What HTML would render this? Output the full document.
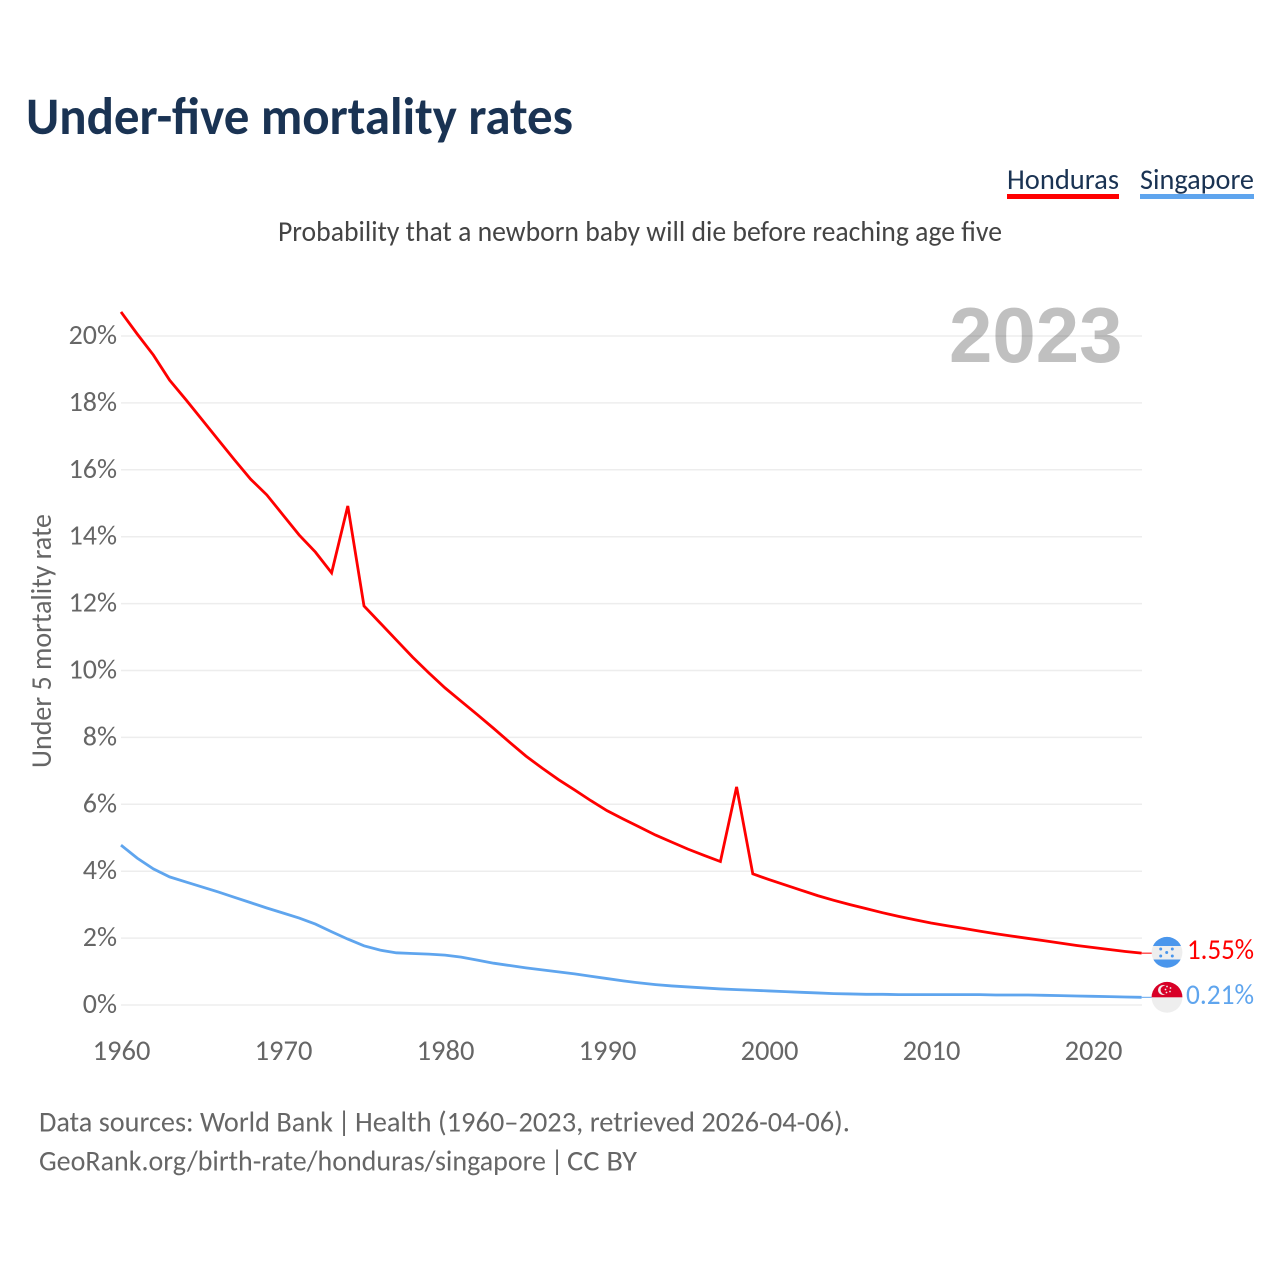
<!DOCTYPE html>
<html lang="en">
<head>
<meta charset="utf-8">
<title>Under-five mortality rates</title>
<style>
html,body{margin:0;padding:0;background:#fff;}
svg{display:block;}
text{font-family:"Carlito","Lato","Liberation Sans",sans-serif;}
</style>
</head>
<body>
<svg id="chart" xmlns="http://www.w3.org/2000/svg" width="1280" height="1280" viewBox="0 0 1280 1280">
  <defs>
    <clipPath id="flag-clip-hn"><circle cx="1167" cy="952.3" r="15.4"/></clipPath>
    <clipPath id="flag-clip-sg"><circle cx="1167" cy="997.3" r="15.4"/></clipPath>
  </defs>
  <rect width="1280" height="1280" fill="#fff"/>
  <text x="26" y="134" font-size="52.5" font-weight="700" fill="#1a3353" textLength="547" lengthAdjust="spacingAndGlyphs">Under-five mortality rates</text>

  <g>
    <text x="1007" y="189" font-size="28.5" fill="#1a3353" textLength="112" lengthAdjust="spacingAndGlyphs">Honduras</text>
    <rect x="1007" y="194" width="112" height="5" fill="#ff0000"/>
  </g>
  <g>
    <text x="1140" y="189" font-size="28.5" fill="#1a3353" textLength="114" lengthAdjust="spacingAndGlyphs">Singapore</text>
    <rect x="1140" y="194" width="114" height="5" fill="#5fa5ee"/>
  </g>

  <text x="278" y="241" font-size="28.5" fill="#444" textLength="724" lengthAdjust="spacingAndGlyphs">Probability that a newborn baby will die before reaching age five</text>

  <text x="949" y="362" font-size="78" font-weight="700" fill="#c0c0c0" style='font-family:"Liberation Sans",sans-serif'>2023</text>

  <g id="grid"></g>
  <g id="yticks"></g>
  <g id="xticks"></g>

  <text transform="translate(51,641) rotate(-90)" text-anchor="middle" font-size="28.5" fill="#666" textLength="254" lengthAdjust="spacingAndGlyphs">Under 5 mortality rate</text>

  <g id="series"></g>

  <g clip-path="url(#flag-clip-hn)">
    <rect x="1151" y="936" width="32" height="33" fill="#eeeeee"/>
    <rect x="1151" y="936" width="32" height="10" fill="#4a96ec"/>
    <rect x="1151" y="959.5" width="32" height="10" fill="#4a96ec"/>
    <g fill="#4a96ec">
      <circle cx="1160.7" cy="949" r="1.5"/><circle cx="1172.3" cy="949" r="1.5"/>
      <circle cx="1166.7" cy="952.5" r="1.5"/>
      <circle cx="1160.7" cy="956" r="1.5"/><circle cx="1172.3" cy="956" r="1.5"/>
    </g>
  </g>
  <g clip-path="url(#flag-clip-sg)">
    <rect x="1151" y="981" width="32" height="33" fill="#eeeeee"/>
    <rect x="1151" y="981" width="32" height="16.3" fill="#d80027"/>
    <circle cx="1163" cy="990" r="5" fill="#eeeeee"/>
    <circle cx="1165" cy="990" r="4.4" fill="#d80027"/>
    <g fill="#eeeeee">
      <circle cx="1167" cy="986.5" r="0.9"/><circle cx="1170.5" cy="988" r="0.9"/>
      <circle cx="1170" cy="991.5" r="0.9"/><circle cx="1166.5" cy="992.5" r="0.9"/>
      <circle cx="1165.5" cy="989.5" r="0.9"/>
    </g>
  </g>

  <text x="1187" y="959" font-size="28.5" fill="#ff0000" textLength="67" lengthAdjust="spacingAndGlyphs">1.55%</text>
  <text x="1186" y="1004" font-size="28.5" fill="#5fa5ee" textLength="68" lengthAdjust="spacingAndGlyphs">0.21%</text>

  <g font-size="28.5" fill="#666">
    <text x="39" y="1131.7" textLength="294" lengthAdjust="spacingAndGlyphs">Data sources: World Bank</text>
    <text x="344" y="1131.7" text-anchor="middle">|</text>
    <text x="355" y="1131.7" textLength="495" lengthAdjust="spacingAndGlyphs">Health (1960–2023, retrieved 2026-04-06).</text>
  </g>
  <g font-size="28.5" fill="#666">
    <text x="39" y="1170.5" textLength="507" lengthAdjust="spacingAndGlyphs">GeoRank.org/birth-rate/honduras/singapore</text>
    <text x="557" y="1170.5" text-anchor="middle">|</text>
    <text x="567" y="1170.5" textLength="70" lengthAdjust="spacingAndGlyphs">CC BY</text>
  </g>
</svg>
<script>
var firstYear = 1960;
var xTickYears = [1960, 1970, 1980, 1990, 2000, 2010, 2020];
var yTickValues = [0, 2, 4, 6, 8, 10, 12, 14, 16, 18, 20];
var hondurasValues = [20.72, 20.06, 19.43, 18.68, 18.1, 17.5, 16.9, 16.3, 15.72, 15.25,
  14.65, 14.05, 13.54, 12.92, 14.92, 11.93, 11.42, 10.91, 10.4, 9.93,
  9.48, 9.08, 8.68, 8.27, 7.85, 7.44, 7.08, 6.74, 6.43, 6.11,
  5.81, 5.56, 5.32, 5.08, 4.87, 4.66, 4.47, 4.29, 6.52, 3.92,
  3.75, 3.59, 3.43, 3.27, 3.13, 3.0, 2.88, 2.76, 2.65, 2.55,
  2.45, 2.37, 2.29, 2.21, 2.13, 2.06, 1.99, 1.92, 1.85, 1.78,
  1.72, 1.66, 1.6, 1.55];
var singaporeValues = [4.78, 4.39, 4.07, 3.83, 3.68, 3.53, 3.38, 3.22, 3.06, 2.9,
  2.75, 2.6, 2.42, 2.19, 1.97, 1.77, 1.64, 1.56, 1.54, 1.52,
  1.49, 1.43, 1.34, 1.25, 1.18, 1.11, 1.05, 0.99, 0.93, 0.86,
  0.79, 0.72, 0.66, 0.61, 0.57, 0.54, 0.51, 0.48, 0.46, 0.44,
  0.42, 0.4, 0.38, 0.36, 0.34, 0.33, 0.32, 0.32, 0.31, 0.31,
  0.31, 0.31, 0.31, 0.31, 0.3, 0.3, 0.3, 0.29, 0.28, 0.27,
  0.26, 0.25, 0.24, 0.23];

var NS = 'http://www.w3.org/2000/svg';
function xScale(year) { return 121 + (year - 1960) * 16.2; }
function yScale(v) { return 1005 - v * 33.45; }

var gridGroup = document.getElementById('grid');
var yTickGroup = document.getElementById('yticks');
var xTickGroup = document.getElementById('xticks');
var seriesGroup = document.getElementById('series');

yTickValues.forEach(function (v) {
  var line = document.createElementNS(NS, 'line');
  
  
  line.setAttribute('x1', xScale(firstYear));
  line.setAttribute('x2', 1142);
  line.setAttribute('y1', yScale(v));
  line.setAttribute('y2', yScale(v));
  line.setAttribute('stroke', '#000');
  line.setAttribute('stroke-opacity', '0.07');
  line.setAttribute('stroke-width', '1.5');
  gridGroup.appendChild(line);

  var label = document.createElementNS(NS, 'text');
  
  
  label.setAttribute('x', 117);
  label.setAttribute('y', yScale(v) + 8);
  label.setAttribute('text-anchor', 'end');
  label.setAttribute('font-size', '28');
  label.setAttribute('fill', '#666');
  label.textContent = v + '%';
  yTickGroup.appendChild(label);
});

xTickYears.forEach(function (year) {
  var label = document.createElementNS(NS, 'text');
  
  
  label.setAttribute('x', xScale(year) + 0.5);
  label.setAttribute('y', 1060);
  label.setAttribute('text-anchor', 'middle');
  label.setAttribute('font-size', '28.5');
  label.setAttribute('fill', '#666');
  label.textContent = year;
  xTickGroup.appendChild(label);
});

function pointsFor(values) {
  return values.map(function (v, i) {
    return xScale(firstYear + i).toFixed(2) + ',' + yScale(v).toFixed(2);
  }).join(' ');
}

var singaporeLine = document.createElementNS(NS, 'polyline');


singaporeLine.setAttribute('points', pointsFor(singaporeValues));
singaporeLine.setAttribute('fill', 'none');
singaporeLine.setAttribute('stroke', '#5fa5ee');
singaporeLine.setAttribute('stroke-width', '2.8');
seriesGroup.appendChild(singaporeLine);

var hondurasLine = document.createElementNS(NS, 'polyline');


hondurasLine.setAttribute('points', pointsFor(hondurasValues));
hondurasLine.setAttribute('fill', 'none');
hondurasLine.setAttribute('stroke', '#ff0000');
hondurasLine.setAttribute('stroke-width', '2.8');
seriesGroup.appendChild(hondurasLine);

var hondurasLeader = document.createElementNS(NS, 'line');


hondurasLeader.setAttribute('x1', xScale(2023));
hondurasLeader.setAttribute('y1', yScale(hondurasValues[hondurasValues.length - 1]));
hondurasLeader.setAttribute('x2', 1152);
hondurasLeader.setAttribute('y2', yScale(hondurasValues[hondurasValues.length - 1]));
hondurasLeader.setAttribute('stroke', '#ff0000');
hondurasLeader.setAttribute('stroke-width', '1');
seriesGroup.appendChild(hondurasLeader);

var singaporeLeader = document.createElementNS(NS, 'line');


singaporeLeader.setAttribute('x1', xScale(2023));
singaporeLeader.setAttribute('y1', yScale(singaporeValues[singaporeValues.length - 1]));
singaporeLeader.setAttribute('x2', 1152);
singaporeLeader.setAttribute('y2', yScale(singaporeValues[singaporeValues.length - 1]));
singaporeLeader.setAttribute('stroke', '#5fa5ee');
singaporeLeader.setAttribute('stroke-width', '1');
seriesGroup.appendChild(singaporeLeader);
</script>
</body>
</html>
